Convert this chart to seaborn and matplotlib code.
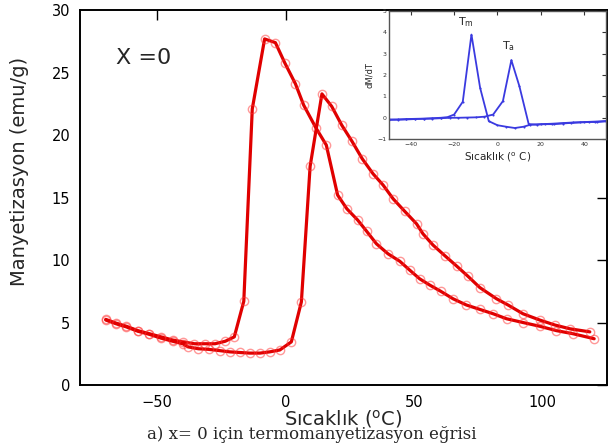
import matplotlib
matplotlib.use("Agg")
import matplotlib.pyplot as plt
import seaborn as sns

# Main curve A (peak near -8 C)
temp_a = [-70, -66, -62, -57.5, -53, -48.5, -44, -40, -35.5, -31.5, -27.5, -23.5, -20, -16.3,
          -13, -8.2, -4, -0.4, 3.8, 7, 11.7, 15.8, 20.2, 23.8, 28, 31.5, 35.3, 39.8, 44.4,
          48.2, 52.1, 56, 60.3, 65.1, 70.3, 75.5, 80.7, 85.9, 92.3, 98.8, 105.3, 111.8, 120]
mag_a = [5.25, 4.95, 4.7, 4.35, 4.1, 3.85, 3.6, 3.45, 3.3, 3.3, 3.3, 3.5, 3.85, 6.7,
         22.1, 27.7, 27.4, 25.8, 24.1, 22.4, 20.6, 19.2, 15.2, 14.1, 13.2, 12.3, 11.3, 10.5, 9.9,
         9.2, 8.5, 8.0, 7.5, 6.9, 6.4, 6.05, 5.7, 5.3, 5.0, 4.7, 4.35, 4.1, 3.7]

# Main curve B (peak near 14 C)
temp_b = [-70, -66, -62, -57.5, -53, -48.5, -44, -40, -38, -34, -30, -25.7, -21.8, -17.9,
          -14, -10, -6.2, -2.3, 2.2, 6.1, 9.5, 14.1, 17.9, 21.8, 25.8, 29.8, 34, 37.9, 41.8,
          46.3, 50.9, 53.4, 57.3, 61.9, 66.6, 70.9, 75.5, 82, 86.5, 92.3, 98.8, 104.7, 110.5, 118.3]
mag_b = [5.2, 4.9, 4.65, 4.3, 4.05, 3.75, 3.5, 3.3, 3.05, 2.9, 2.85, 2.75, 2.65, 2.6,
         2.55, 2.55, 2.65, 2.8, 3.45, 6.65, 17.5, 23.3, 22.3, 20.8, 19.5, 18.1, 16.9, 16.0, 14.9,
         13.9, 12.9, 12.1, 11.2, 10.35, 9.5, 8.7, 7.8, 6.9, 6.4, 5.7, 5.2, 4.8, 4.5, 4.25]

# Inset: dM/dT curves
temp_tm = [-50, -46, -42, -38, -34, -30, -26, -23, -20, -16, -12, -8, -4, 0, 4, 8, 12, 15,
           20, 25, 30, 35, 40, 45, 50]
dmdt_tm = [-0.08, -0.08, -0.06, -0.05, -0.04, -0.02, 0.0, 0.03, 0.15, 0.75, 3.9, 1.4, -0.16,
           -0.35, -0.42, -0.48, -0.42, -0.33, -0.3, -0.28, -0.25, -0.22, -0.2, -0.18, -0.15]
temp_ta = [-50, -46, -42, -38, -34, -30, -26, -22, -18, -14, -10, -6, -2, 2.5, 6.4, 10.1,
           14.4, 18, 22, 26, 30, 34, 38, 42, 46, 50]
dmdt_ta = [-0.1, -0.09, -0.08, -0.06, -0.05, -0.04, -0.02, 0.0, 0.0, 0.01, 0.02, 0.05, 0.15,
           0.78, 2.7, 1.48, -0.3, -0.32, -0.3, -0.3, -0.27, -0.24, -0.22, -0.2, -0.2, -0.17]

sns.set_style("white")
plt.rcParams['font.family'] = ['DejaVu Sans']

fig = plt.figure(figsize=(6.11, 4.43), dpi=100)
ax = fig.add_axes([0.131, 0.131, 0.8625, 0.846])

red = "#e00000"
for t, m in [(temp_a, mag_a), (temp_b, mag_b)]:
    sns.lineplot(x=t, y=m, ax=ax, sort=False, color=red, linewidth=2.3,
                 marker="o", markersize=6, markerfacecolor="none",
                 markeredgecolor=(1, 0.2, 0.2, 0.5), markeredgewidth=1.0)

ax.set_xlim(-80, 125)
ax.set_ylim(0, 30)
ax.set_xticks([-50, 0, 50, 100])
ax.set_yticks([0, 5, 10, 15, 20, 25, 30])
ax.tick_params(direction="in", length=7, width=1, labelsize=10.5, top=True, right=True,
               colors="black", pad=7)
for s in ax.spines.values():
    s.set_color("black")
    s.set_linewidth(1.4)
ax.set_xlabel("Sıcaklık ($^{\\mathrm{o}}$C)", fontsize=14, labelpad=-1)
ax.set_ylabel("Manyetizasyon (emu/g)", fontsize=14)
ax.yaxis.set_label_coords(-0.097, 0.57)
ax.text(-66, 26.2, "X =0", fontsize=16, va="center", ha="left")

# inset
ins = fig.add_axes([0.6367, 0.686, 0.355, 0.289])
blue = "#3a3ae0"
for t, d in [(temp_tm, dmdt_tm), (temp_ta, dmdt_ta)]:
    sns.lineplot(x=t, y=d, ax=ins, sort=False, color=blue, linewidth=1.3,
                 marker="o", markersize=1.5, markeredgewidth=0)
ins.set_xlim(-50, 50)
ins.set_ylim(-1, 5)
ins.set_xticks([-40, -20, 0, 20, 40])
ins.set_yticks([-1, 0, 1, 2, 3, 4, 5])
ins.tick_params(direction="in", length=3, width=0.8, labelsize=4.5, top=True, right=True,
                pad=2, colors="#333333")
for s in ins.spines.values():
    s.set_color("#555555")
    s.set_linewidth(1.0)
ins.set_xlabel("Sıcaklık ($^{\\mathrm{o}}$ C)", fontsize=7.5, labelpad=2.5)
ins.set_ylabel("dM/dT", fontsize=6, labelpad=2)
ins.text(-14.4, 4.5, "T$_{\\mathrm{m}}$", fontsize=8, ha="center", va="center")
ins.text(5.3, 3.36, "T$_{\\mathrm{a}}$", fontsize=8, ha="center", va="center")

fig.text(0.51, 0.008, "a) x= 0 için termomanyetizasyon eğrisi", fontsize=12,
         family=["DejaVu Serif"], ha="center", va="baseline")

fig.savefig("out.png", dpi=100)
